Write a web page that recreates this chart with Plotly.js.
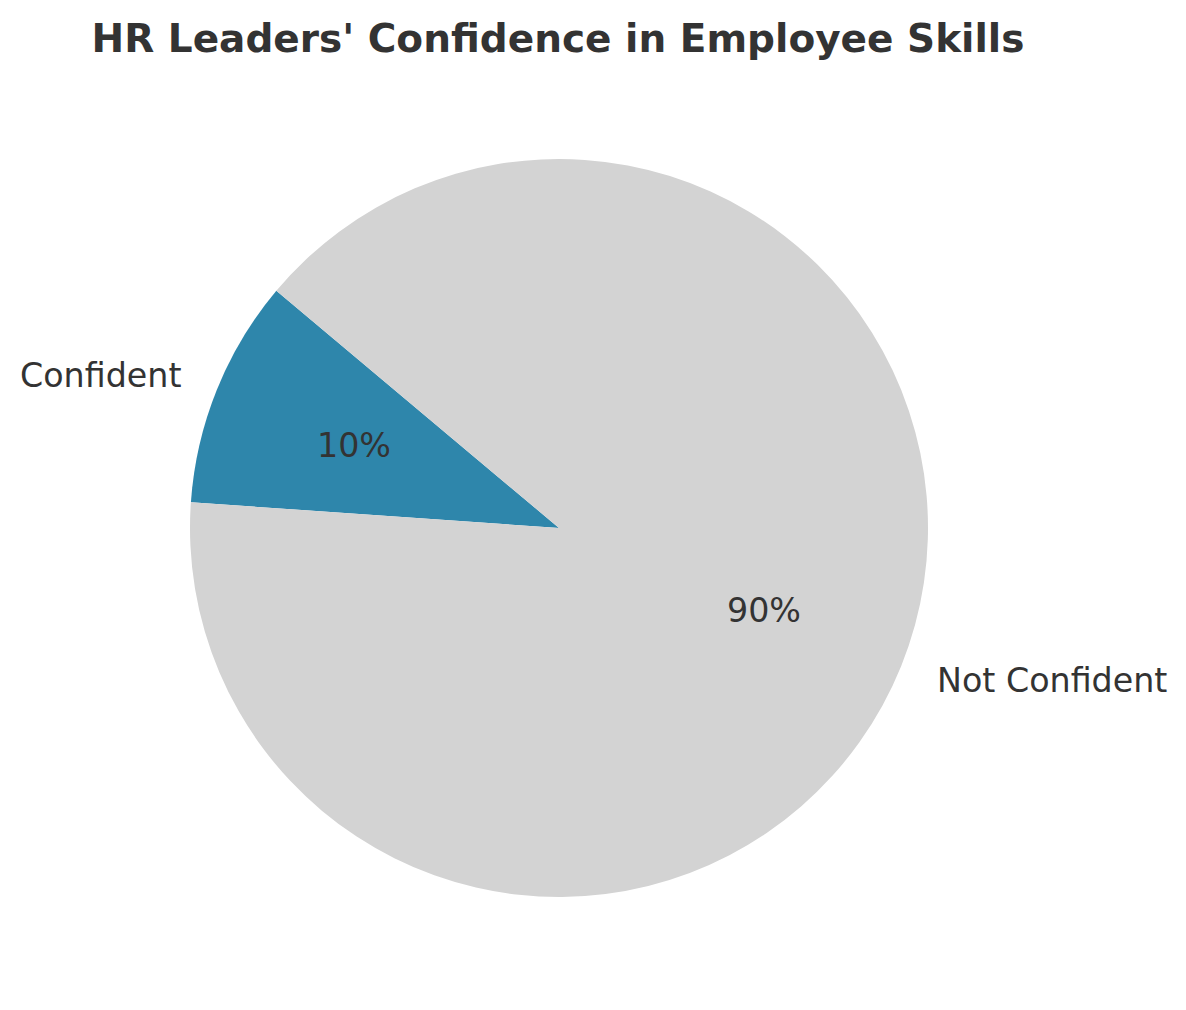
<!DOCTYPE html>
<html>
<head>
<meta charset="utf-8">
<script src="https://cdn.plot.ly/plotly-3.0.1.min.js"></script>
<style>html,body{margin:0;padding:0;background:#fff;}#chart{width:1186px;height:1010px;}</style>
</head>
<body>
<div id="chart"></div>
<script>
const labels = ["Confident", "Not Confident"];
const values = [10, 90];
const colors = ["#2E86AB", "#D3D3D3"];
const chartTitle = "HR Leaders' Confidence in Employee Skills";
const startAngle = 140; // degrees, counterclockwise from 3 o'clock

const W = 1186, H = 1010;
const cxPx = 559, cyPx = 528, rPx = 369;
const dom = {
  x: [(cxPx - rPx) / W, (cxPx + rPx) / W],
  y: [(H - cyPx - rPx) / H, (H - cyPx + rPx) / H]
};
const cx = (dom.x[0] + dom.x[1]) / 2, cy = (dom.y[0] + dom.y[1]) / 2;
const rx = rPx / W, ry = rPx / H;
const total = values.reduce((a, b) => a + b, 0);
const firstSpan = 360 * values[0] / total;

const annotations = [];
let ang = startAngle;
values.forEach((v, i) => {
  const span = 360 * v / total;
  const mid = (ang + span / 2) * Math.PI / 180;
  ang += span;
  const c = Math.cos(mid), s = Math.sin(mid);
  annotations.push({
    x: cx + 0.6 * rx * c, y: cy + 0.6 * ry * s, xref: 'paper', yref: 'paper',
    text: Math.round(100 * v / total) + '%', showarrow: false,
    xanchor: 'center', yanchor: 'middle',
    font: {family: 'DejaVu Sans', size: 33.3, color: '#333333'}
  });
  annotations.push({
    x: cx + 1.1 * rx * c, y: cy + 1.1 * ry * s, xref: 'paper', yref: 'paper',
    text: labels[i], showarrow: false,
    xanchor: c < 0 ? 'right' : 'left', yanchor: 'middle',
    font: {family: 'DejaVu Sans', size: 33.3, color: '#333333'}
  });
});

const trace = {
  type: 'pie',
  labels: labels,
  values: values,
  marker: {colors: colors, line: {width: 0}},
  sort: false,
  direction: 'counterclockwise',
  rotation: 90 - startAngle - firstSpan,
  textinfo: 'none',
  hoverinfo: 'label+percent',
  domain: dom,
  showlegend: false
};

const layout = {
  width: W, height: H,
  margin: {l: 0, r: 0, t: 0, b: 0},
  paper_bgcolor: '#ffffff',
  showlegend: false,
  title: {
    text: '<b>' + chartTitle + '</b>',
    x: 558 / W, xanchor: 'center',
    y: 1 - 38 / H, yanchor: 'middle', xref: 'paper', yref: 'paper',
    font: {family: 'DejaVu Sans', size: 39, color: '#333333'}
  },
  annotations: annotations
};

Plotly.newPlot('chart', [trace], layout, {displayModeBar: false});
</script>
</body>
</html>
